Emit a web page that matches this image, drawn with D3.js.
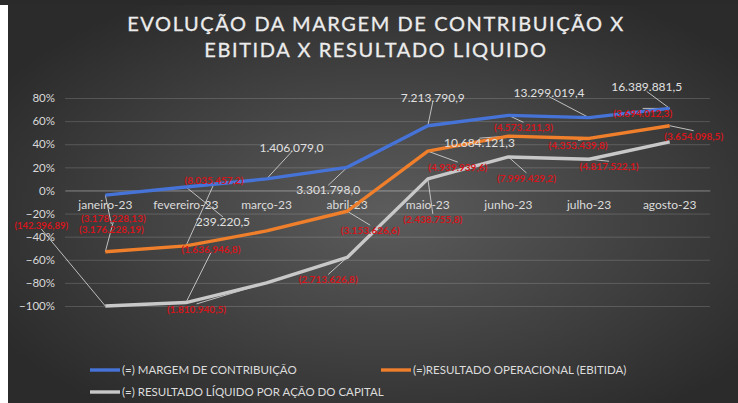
<!DOCTYPE html>
<html lang="pt">
<head>
  <meta charset="UTF-8">
  <title>Evolução da margem</title>
  <script src="https://cdn.jsdelivr.net/npm/d3@7"></script>
  <style>
    body { margin: 0; background: #fff; }
    svg { display: block; }
    text { font-family: Lato, "Open Sans", sans-serif; }
  </style>
</head>
<body>
<svg></svg>
<script>
  const width = 738, height = 403
  const margin = {top: 98, right: 28, bottom: 97, left: 65}

  // dados
  const months = ['janeiro-23', 'fevereiro-23', 'março-23', 'abril-23', 'maio-23', 'junho-23', 'julho-23', 'agosto-23']
  const margemContrib = [-0.04, 0.03, 0.10, 0.20, 0.56, 0.65, 0.63, 0.71]
  const ebitida = [-0.53, -0.48, -0.35, -0.18, 0.34, 0.47, 0.45, 0.56]
  const resultadoLiq = [-1.00, -0.97, -0.80, -0.58, 0.10, 0.29, 0.27, 0.42]
  const yTicks = [0.8, 0.6, 0.4, 0.2, 0, -0.2, -0.4, -0.6, -0.8, -1.0]
  const seriesNames = ['(=) MARGEM DE CONTRIBUIÇÃO', '(=)RESULTADO OPERACIONAL (EBITIDA)', '(=) RESULTADO LÍQUIDO POR AÇÃO DO CAPITAL']
  const seriesColors = ['#4673d8', '#f07f2c', '#c8c8c8']

  // rótulos de valor: [texto, série, mês]
  const whiteLabels = [
    ['239.220,5', 0, 1], ['1.406.079,0', 0, 2], ['3.301.798,0', 0, 3], ['7.213.790,9', 0, 4],
    ['10.684.121,3', 1, 5], ['13.299.019,4', 0, 6], ['16.389.881,5', 0, 7]
  ]
  const redLabels = [
    ['(3.178.228,13)', 1, 0], ['(142.396,89)', 2, 0], ['(3.176.228,19)', 0, 0], ['(8.035.457,2)', 1, 1],
    ['(1.636.946,8)', 2, 1], ['(1.810.940,5)', 2, 2], ['(3.153.626,6)', 1, 3], ['(2.713.626,8)', 2, 3],
    ['(2.438.755,8)', 2, 4], ['(4.939.939,6)', 1, 4], ['(7.999.429,2)', 2, 5], ['(4.573.211,3)', 0, 5],
    ['(4.353.439,8)', 1, 6], ['(4.817.522,1)', 2, 6], ['(3.694.012,3)', 0, 7], ['(3.654.098,5)', 1, 7]
  ]
  // deslocamento dos rótulos em relação ao ponto (layout)
  const whiteOffsets = [[37, 35], [25, -31], [-19, 23], [5, -28], [-29, 7], [-40, -25], [-23, -21]]
  const redOffsets = [[8, -34], [-64, -81], [6, 34], [28, -66], [25, -54], [-70, 26], [23, 19], [-19, 22],
    [5, 40], [30, 16], [18, 21], [15, 12], [-11, 7], [20, 7], [-27, 5], [24, 10]]

  const allSeries = [margemContrib, ebitida, resultadoLiq]

  const svg = d3.select('svg')
      .attr('width', width)
      .attr('height', height)
      .attr('viewBox', [0, 0, width, height])

  // fundo
  const defs = svg.append('defs')
  const grad = defs.append('radialGradient')
      .attr('id', 'bg')
      .attr('cx', '52%').attr('cy', '52%').attr('r', '62%')
  grad.append('stop').attr('offset', '0%').attr('stop-color', '#5c5c5c')
  grad.append('stop').attr('offset', '100%').attr('stop-color', '#2b2b2b')

  svg.append('rect').attr('width', width).attr('height', height).attr('fill', '#2a2a2a')
  svg.append('rect').attr('x', 8).attr('y', 5).attr('width', width - 8).attr('height', height - 5).attr('fill', 'url(#bg)')
  svg.append('rect').attr('x', 0).attr('y', 5).attr('width', 8).attr('height', height - 5).attr('fill', '#fff')

  // título
  svg.append('text')
      .attr('x', 376).attr('y', 31)
      .attr('text-anchor', 'middle')
      .attr('fill', '#ececec')
      .attr('font-size', 20)
      .attr('letter-spacing', 1.6)
      .attr('stroke', '#ececec')
      .attr('stroke-width', 0.3)
      .selectAll('tspan')
      .data(['EVOLUÇÃO DA MARGEM DE CONTRIBUIÇÃO X', 'EBITIDA X RESULTADO LIQUIDO'])
      .join('tspan')
      .attr('x', 376)
      .attr('dy', (d, i) => i ? 26 : 0)
      .text(d => d)

  const x = d3.scaleBand()
      .domain(months)
      .range([margin.left, width - margin.right])

  const y = d3.scaleLinear()
      .domain([-1, 0.8])
      .range([height - margin.bottom, margin.top])

  const px = i => x(months[i]) + x.bandwidth() / 2

  // grade + eixo y
  svg.append('g')
      .attr('transform', `translate(${margin.left},0)`)
      .call(d3.axisLeft(y).tickValues(yTicks).tickFormat(d3.format('.0%'))
          .tickSize(-(width - margin.left - margin.right)).tickPadding(10))
      .call(g => g.select('.domain').remove())
      .call(g => g.selectAll('.tick line').attr('stroke', '#ffffff').attr('stroke-opacity', 0.16))
      .call(g => g.selectAll('.tick text').attr('fill', '#d9d9d9').attr('font-size', 11.5)
          .attr('font-family', 'Lato, sans-serif'))

  // eixo x em 0%
  svg.append('g')
      .attr('transform', `translate(0,${y(0)})`)
      .call(d3.axisBottom(x).tickSize(0).tickPadding(10))
      .call(g => g.select('.domain').attr('stroke', '#ffffff').attr('stroke-opacity', 0.25))
      .call(g => g.selectAll('.tick text').attr('fill', '#dcdcdc').attr('font-size', 12)
          .attr('font-family', 'Lato, sans-serif'))

  // linhas de chamada
  const leaders = svg.append('g').attr('stroke', '#d6d6d6').attr('stroke-width', 1).attr('stroke-opacity', 0.85)
  const addLeader = (s, i, off) => {
    const x0 = px(i), y0 = y(allSeries[s][i])
    const x1 = x0 + off[0], y1 = y0 + off[1] + (off[1] > 0 ? -5 : 4)
    leaders.append('line').attr('x1', x0).attr('y1', y0).attr('x2', x1).attr('y2', y1)
  }
  whiteLabels.forEach((d, k) => addLeader(d[1], d[2], whiteOffsets[k]))
  redLabels.forEach((d, k) => addLeader(d[1], d[2], redOffsets[k]))

  // séries
  const line = d3.line()
      .x((d, i) => px(i))
      .y(d => y(d))

  svg.append('g')
      .selectAll('path')
      .data(allSeries)
      .join('path')
      .attr('fill', 'none')
      .attr('stroke', (d, i) => seriesColors[i])
      .attr('stroke-width', 3.4)
      .attr('stroke-linejoin', 'round')
      .attr('d', line)

  // rótulos
  svg.append('g')
      .selectAll('text')
      .data(redLabels)
      .join('text')
      .attr('x', (d, k) => px(d[2]) + redOffsets[k][0])
      .attr('y', (d, k) => y(allSeries[d[1]][d[2]]) + redOffsets[k][1] + 4)
      .attr('text-anchor', 'middle')
      .attr('fill', '#d4161c')
      .attr('font-size', (d, k) => k === 1 ? 9.5 : 10)
      .attr('font-weight', 'bold')
      .text(d => d[0])

  svg.append('g')
      .selectAll('text')
      .data(whiteLabels)
      .join('text')
      .attr('x', (d, k) => px(d[2]) + whiteOffsets[k][0])
      .attr('y', (d, k) => y(allSeries[d[1]][d[2]]) + whiteOffsets[k][1] + 4)
      .attr('text-anchor', 'middle')
      .attr('fill', '#e0e0e0')
      .attr('font-size', 12)
      .text(d => d[0])

  // legenda
  const legendPos = [[90, 370], [381, 370], [90, 392]]
  const legend = svg.append('g')
      .selectAll('g')
      .data(seriesNames)
      .join('g')
      .attr('transform', (d, i) => `translate(${legendPos[i][0]},${legendPos[i][1]})`)
  legend.append('line')
      .attr('x1', 0).attr('x2', 30)
      .attr('stroke', (d, i) => seriesColors[i])
      .attr('stroke-width', 3.4)
  legend.append('text')
      .attr('x', 32).attr('y', 4)
      .attr('fill', '#dcdcdc')
      .attr('font-size', 11.5)
      .text(d => d)
</script>
</body>
</html>
